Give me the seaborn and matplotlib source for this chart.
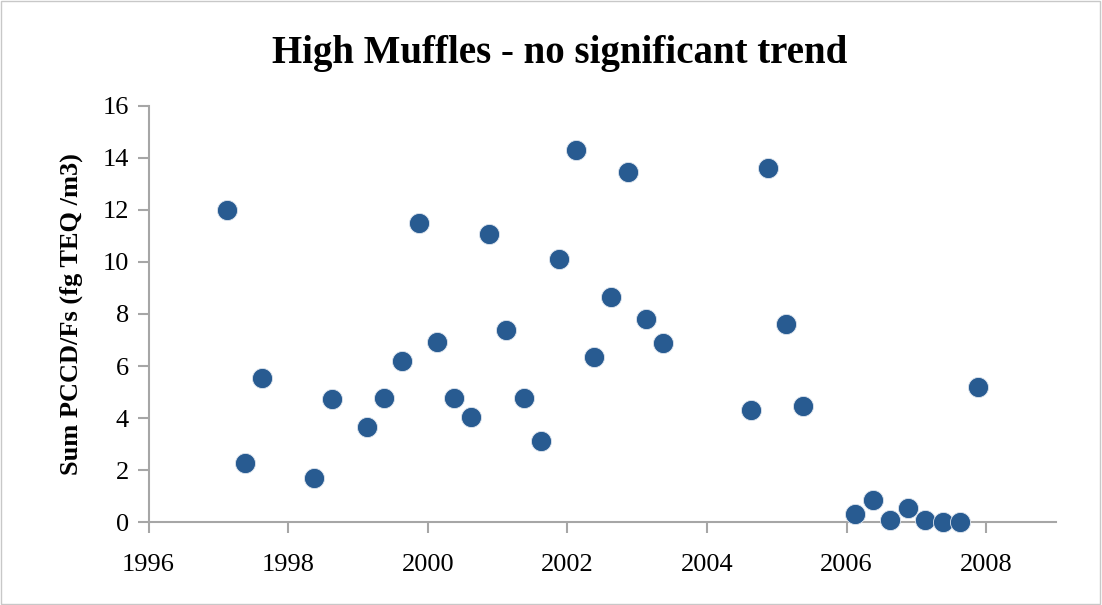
import numpy as np
import pandas as pd
import seaborn as sns
import matplotlib.pyplot as plt
from matplotlib.patches import Rectangle

# sample dates (decimal year) and sum PCCD/Fs values
year = [1997.125, 1997.375, 1997.625, 1998.375, 1998.625,
        1999.125, 1999.375, 1999.625, 1999.875, 2000.125,
        2000.375, 2000.625, 2000.875, 2001.125, 2001.375,
        2001.625, 2001.875, 2002.125, 2002.375, 2002.625,
        2002.875, 2003.125, 2003.375, 2004.625, 2004.875,
        2005.125, 2005.375, 2006.125, 2006.375, 2006.625,
        2006.875, 2007.125, 2007.375, 2007.625, 2007.875]
teq = [12.0, 2.29, 5.53, 1.71, 4.73,
       3.66, 4.77, 6.18, 11.48, 6.92,
       4.77, 4.04, 11.08, 7.37, 4.77,
       3.11, 10.1, 14.3, 6.33, 8.67,
       13.45, 7.8, 6.9, 4.33, 13.62,
       7.63, 4.48, 0.31, 0.87, 0.08,
       0.54, 0.08, 0.03, 0.02, 5.21]
xticks = [1996, 1998, 2000, 2002, 2004, 2006, 2008]
yticks = [0, 2, 4, 6, 8, 10, 12, 14, 16]

df = pd.DataFrame({'Year': year, 'TEQ': teq})

sns.set_style('ticks')
plt.rcParams['font.family'] = ['Liberation Serif', 'DejaVu Serif']
plt.rcParams['text.color'] = 'black'
plt.rcParams['axes.labelcolor'] = 'black'

fig = plt.figure(figsize=(11.02, 6.05), dpi=100)
ax = fig.add_axes([0.1348, 0.1367, 0.8235, 0.6886])

sns.scatterplot(data=df, x='Year', y='TEQ', ax=ax, color='#285B91', s=210,
                edgecolor='#dfe6ef', linewidth=0.6, clip_on=False, zorder=3)

ax.set_xlim(1996, 2009)
ax.set_ylim(0, 16)
ax.set_xticks(xticks)
ax.set_yticks(yticks)
ax.tick_params(axis='both', which='major', labelsize=19, direction='out',
               length=8, width=1.5, color='#a6a6a6', labelcolor='black',
               bottom=True, left=True, pad=6)
ax.tick_params(axis='x', pad=15)

for side in ['top', 'right']:
    ax.spines[side].set_visible(False)
for side in ['left', 'bottom']:
    ax.spines[side].set_color('#a6a6a6')
    ax.spines[side].set_linewidth(1.5)

ax.set_xlabel('')
ax.set_ylabel('Sum PCCD/Fs (fg TEQ /m3)', fontsize=19, fontweight='bold', labelpad=14)
fig.text(0.508, 0.912, 'High Muffles - no significant trend', ha='center', va='center',
         fontsize=28, fontweight='bold')

# thin frame round the whole chart
fig.patches.append(Rectangle((0.001, 0.002), 0.997, 0.996, transform=fig.transFigure,
                             fill=False, edgecolor='#c8c8c8', linewidth=1.0))

fig.savefig('out.png', dpi=100)
